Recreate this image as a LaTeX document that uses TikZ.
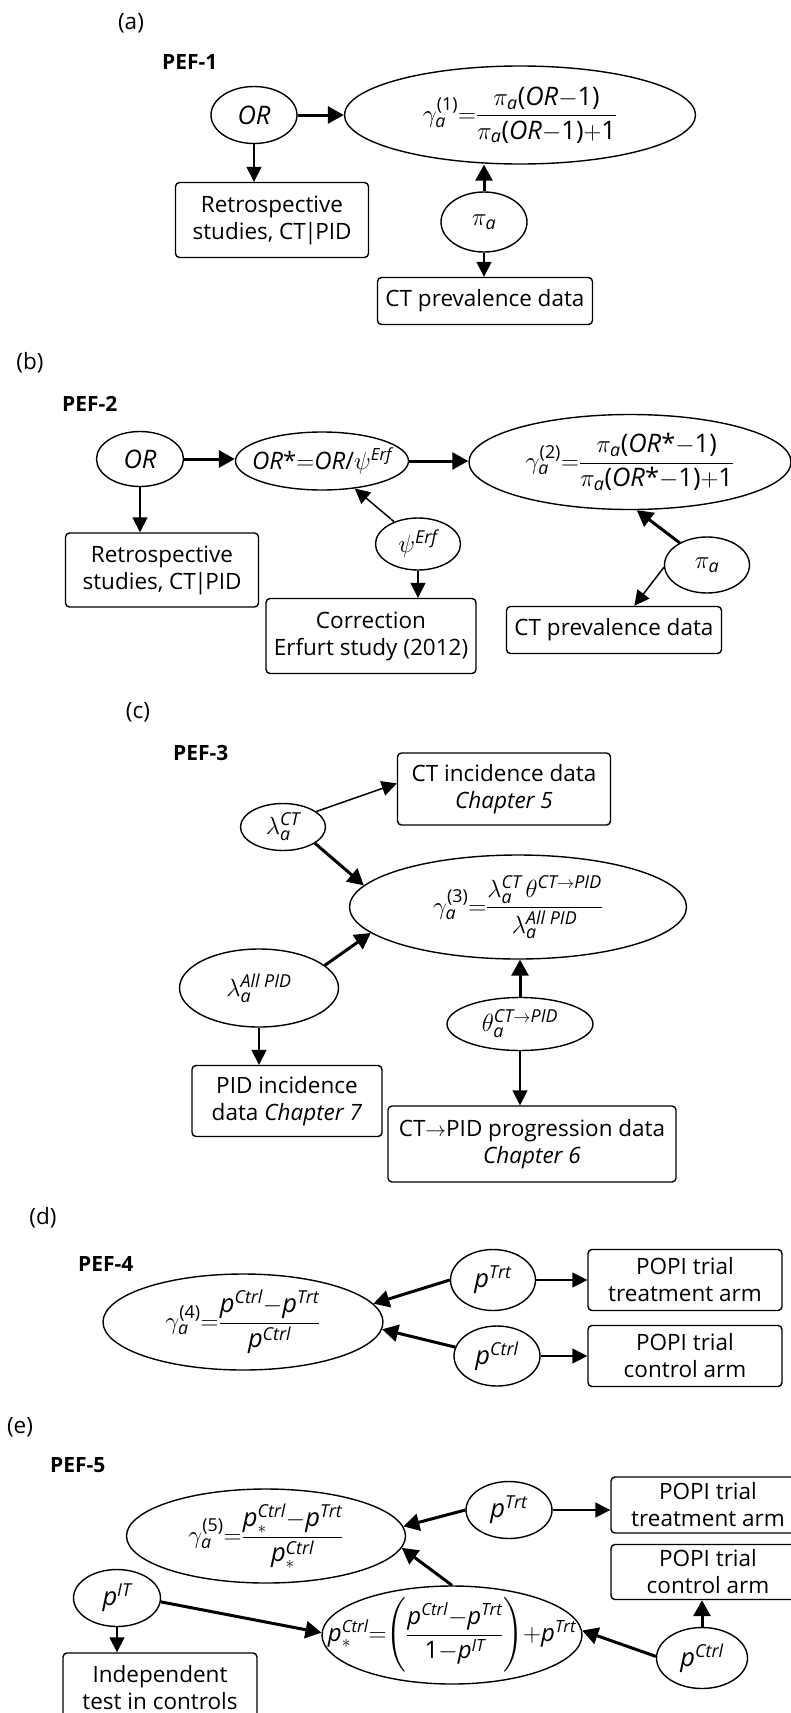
\documentclass[tikz,border=0pt]{standalone}
\usepackage{amsmath}
\usepackage{fontspec}
\setmainfont{Open Sans}
\usetikzlibrary{shapes.geometric,arrows.meta,calc}
\newcommand{\vit}[1]{\textit{#1}}
\newcommand{\vup}[1]{\textup{#1}}
\tikzset{
 txt/.style={font=\fontsize{22.5}{27}\selectfont},
 mth/.style={font=\fontsize{25.5}{30}\selectfont},
 pef/.style={anchor=west, font=\fontsize{21}{25}\selectfont\bfseries, inner sep=0pt},
 ell/.style={ellipse, draw, line width=1.4pt, inner sep=0pt, mth},
 bx/.style={rectangle, draw, rounded corners=4pt, line width=1.4pt, inner sep=0pt, align=center, txt},
 tarr/.style={line width=1.5pt, -{Triangle[length=15pt,width=15pt]}},
 karr/.style={line width=3pt, -{Triangle[length=16pt,width=17pt]}},
}
\begin{document}
\begin{tikzpicture}[x=1pt,y=-1pt]
\useasboundingbox (0,0) rectangle (791,1713);

% ---------------- (a)
\node[txt] (la) at (131,23) {(a)};
\node[pef] (pa) at (162,62) {PEF-1};
\node[ell,minimum width=86pt,minimum height=57pt] (orA) at (254,115) {$\vit{OR}$};
\node[ell,minimum width=351pt,minimum height=98pt] (g1) at (520,115) {};
\node[mth] (g1t) at (g1.center) {$\gamma_{\vit{a}}^{\vup{(1)}}{=}\dfrac{\pi_{\vit{a}}\vup{(}\vit{OR}{-}\vup{1)}}{\pi_{\vit{a}}\vup{(}\vit{OR}{-}\vup{1)}{+}\vup{1}}$};
\node[ell,minimum width=86pt,minimum height=60pt] (piA) at (484,222) {$\pi_{\vit{a}}$};
\node[bx,minimum width=215pt,minimum height=47pt] (ctA) at (485,301) {CT prevalence data};
\node[bx,minimum width=193pt,minimum height=75pt] (reA) at (272,220) {Retrospective\\studies, CT\kern-1.5pt|\kern-1.5pt PID};
\draw[karr] (orA.east) -- (orA.east -| g1.west);
\draw[karr] (piA.north) -- (piA.north |- g1.south);
\draw[tarr] (piA.south) -- (piA.south |- ctA.north);
\draw[tarr] (orA.south) -- (orA.south |- reA.north);

% ---------------- (b)
\node[txt] (lb) at (30,363) {(b)};
\node[pef] (pb) at (62,404) {PEF-2};
\node[ell,minimum width=87pt,minimum height=55pt] (orB) at (140,459) {$\vit{OR}$};
\node[ell,minimum width=173pt,minimum height=58pt] (osB) at (322,461) {};
\node[font=\fontsize{24}{28}\selectfont] (osBt) at (osB.center) {$\vit{OR}\vup{*}{=}\vit{OR}\vup{/}\psi^{\vit{Erf}}$};
\node[ell,minimum width=322pt,minimum height=95pt] (g2) at (630,462) {};
\node[mth] (g2t) at (g2.center) {$\gamma_{\vit{a}}^{\vup{(2)}}{=}\dfrac{\pi_{\vit{a}}\vup{(}\vit{OR}\vup{*}{-}\vup{1)}}{\pi_{\vit{a}}\vup{(}\vit{OR}\vup{*}{-}\vup{1)}{+}\vup{1}}$};
\node[ell,minimum width=85pt,minimum height=52pt] (psiB) at (418,544) {$\psi^{\vit{Erf}}$};
\node[bx,minimum width=193pt,minimum height=74pt] (reB) at (162,570) {Retrospective\\studies, CT\kern-1.5pt|\kern-1.5pt PID};
\node[bx,minimum width=210pt,minimum height=75pt] (coB) at (371,636) {Correction\\Erfurt study (2012)};
\node[ell,minimum width=85pt,minimum height=56pt] (piB) at (707,565) {$\pi_{\vit{a}}$};
\node[bx,minimum width=215pt,minimum height=47pt] (ctB) at (614,630) {CT prevalence data};
\draw[karr] (orB.east) -- (orB.east -| osB.west);
\draw[karr] (osB.east) -- (osB.east -| g2.west);
\draw[tarr] (orB.south) -- (orB.south |- reB.north);
\draw[tarr] (psiB.137) -- (osB.-40);
\draw[tarr] (psiB.south) -- (psiB.south |- coB.north);
\draw[karr] (piB.141) -- (g2.-82);
\draw[tarr] (piB.183) -- (ctB.50);

% ---------------- (c)
\node[txt] (lc) at (138,712) {(c)};
\node[pef] (pc) at (173,753) {PEF-3};
\node[bx,minimum width=213pt,minimum height=72pt] (ctinc) at (504,789) {CT incidence data\\\textit{Chapter 5}};
\node[ell,minimum width=85pt,minimum height=47pt] (lct) at (283,827) {$\lambda_{\vit{a}}^{\vit{CT}}$};
\node[ell,minimum width=337pt,minimum height=104pt] (g3) at (518,907) {};
\node[mth] (g3t) at (g3.center) {$\gamma_{\vit{a}}^{\vup{(3)}}{=}\dfrac{\lambda_{\vit{a}}^{\vit{CT}}\,\theta^{\vit{CT}\to\vit{PID}}}{\lambda_{\vit{a}}^{\vit{All PID}}}$};
\node[ell,minimum width=159pt,minimum height=78pt] (lall) at (259,988) {$\lambda_{\vit{a}}^{\vit{All PID}}$};
\node[bx,minimum width=190pt,minimum height=71pt] (pidinc) at (287,1101) {PID incidence\\data \textit{Chapter 7}};
\node[ell,minimum width=146pt,minimum height=53pt] (th) at (520,1024) {$\theta_{\vit{a}}^{\vit{CT}\to\vit{PID}}$};
\node[bx,minimum width=288pt,minimum height=76pt] (ctpid) at (532,1144) {CT$\to$PID progression data\\\textit{Chapter 6}};
\draw[tarr] (lct.25) -- (ctinc.177);
\draw[karr] (lct.-27) -- (g3.172);
\draw[karr] (lall.19) -- (g3.190);
\draw[tarr] (lall.south) -- (lall.south |- pidinc.north);
\draw[karr] (th.north) -- (th.north |- g3.south);
\draw[tarr] (th.south) -- (th.south |- ctpid.north);

% ---------------- (d)
\node[txt] (ld) at (43,1218) {(d)};
\node[pef] (pd) at (78,1264) {PEF-4};
\node[ell,minimum width=280pt,minimum height=96pt] (g4) at (243,1322) {};
\node[mth] (g4t) at (g4.center) {$\gamma_{\vit{a}}^{\vup{(4)}}{=}\dfrac{\vit{p}^{\vit{Ctrl}}{-}\vit{p}^{\vit{Trt}}}{\vit{p}^{\vit{Ctrl}}}$};
\node[ell,minimum width=85pt,minimum height=61pt] (ptD) at (493,1280) {$\vit{p}^{\vit{Trt}}$};
\node[ell,minimum width=86pt,minimum height=60pt] (pcD) at (497,1356) {$\vit{p}^{\vit{Ctrl}}$};
\node[bx,minimum width=194pt,minimum height=61pt] (trtD) at (685,1280) {POPI trial\\treatment arm};
\node[bx,minimum width=194pt,minimum height=61pt] (ctlD) at (685,1356) {POPI trial\\control arm};
\draw[tarr] (ptD.east) -- (ptD.east -| trtD.west);
\draw[tarr] (pcD.east) -- (pcD.east -| ctlD.west);
\draw[karr] (ptD.west) -- (g4.8);
\draw[karr] (pcD.168) -- (g4.-3);

% ---------------- (e)
\node[txt] (le) at (20,1427) {(e)};
\node[pef] (pe) at (50,1465) {PEF-5};
\node[ell,minimum width=279pt,minimum height=94pt] (g5) at (266,1536) {};
\node[mth] (g5t) at (g5.center) {$\gamma_{\vit{a}}^{\vup{(5)}}{=}\dfrac{\vit{p}_{*}^{\vit{Ctrl}}{-}\vit{p}^{\vit{Trt}}}{\vit{p}_{*}^{\vit{Ctrl}}}$};
\node[ell,minimum width=86pt,minimum height=57pt] (ptE) at (509,1510) {$\vit{p}^{\vit{Trt}}$};
\node[bx,minimum width=194pt,minimum height=56pt] (trtE) at (708,1505) {POPI trial\\treatment arm};
\node[bx,minimum width=194pt,minimum height=55pt] (ctlE) at (708,1572) {POPI trial\\control arm};
\node[ell,minimum width=91pt,minimum height=61pt] (pcE) at (702,1658) {$\vit{p}^{\vit{Ctrl}}$};
\node[ell,minimum width=260pt,minimum height=98pt] (psE) at (452,1635) {};
\node[font=\fontsize{24}{28}\selectfont] (psEt) at (psE.center) {$\vit{p}_{*}^{\vit{Ctrl}}{=}{\left(\vcenter{\hbox{\rule{0pt}{78pt}}}\dfrac{\vit{p}^{\vit{Ctrl}}{-}\vit{p}^{\vit{Trt}}}{\vup{1}{-}\vit{p}^{\vit{IT}}}\right)}{+}\vit{p}^{\vit{Trt}}$};
\node[ell,minimum width=87pt,minimum height=57pt] (pitE) at (117,1598) {$\vit{p}^{\vit{IT}}$};
\node[bx,minimum width=194pt,minimum height=70pt] (indE) at (160,1688) {Independent\\test in controls};
\draw[tarr] (ptE.east) -- (ptE.east -| trtE.west);
\draw[karr] (ptE.west) -- (g5.4.5);
\draw[karr] (psE.north) -- (g5.-5);
\draw[karr] (pcE.north) -- (pcE.north |- ctlE.south);
\draw[karr] (pcE.178) -- (psE.2);
\draw[karr] (pitE.-5) -- (psE.179);
\draw[tarr] (pitE.south) -- (pitE.south |- indE.north);
\end{tikzpicture}
\end{document}
